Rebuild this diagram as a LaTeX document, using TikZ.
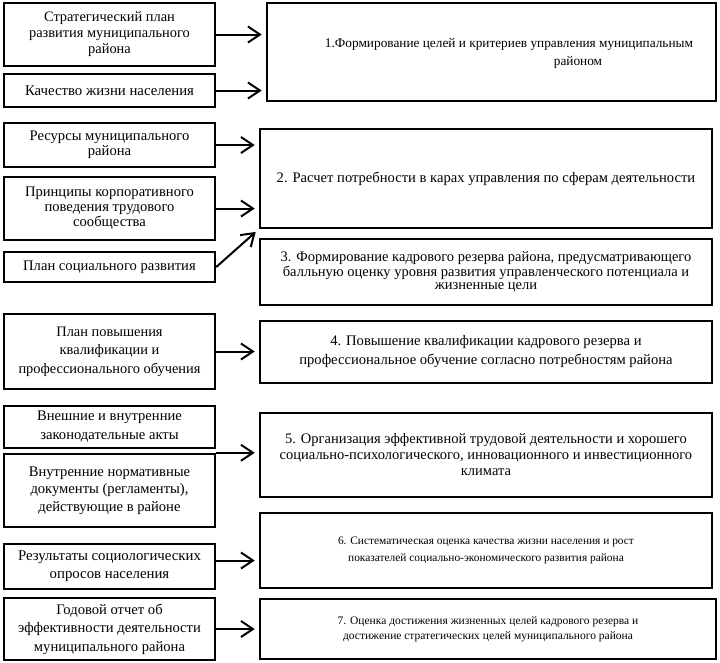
\documentclass[tikz,border=0pt]{standalone}
\usepackage{fontspec}
\setmainfont{Liberation Serif}
\usetikzlibrary{arrows.meta}
\begin{document}
\begin{tikzpicture}[x=1pt,y=-1pt,
 box/.style={draw,line width=2.5pt,align=center,inner sep=1pt},
 lbox/.style={box,minimum width=211pt},
 arr/.style={line width=2pt,-{Straight Barb[length=12pt,width=16pt]},shorten >=4pt}]
\useasboundingbox (0,0) rectangle (720,662);
% left boxes
\node[lbox,minimum height=63pt,font=\fontsize{14.4}{16}\selectfont] (L1) at (109.5,34.5) {Стратегический план\\развития муниципального\\района};
\node[lbox,minimum height=33pt,font=\fontsize{14.8}{16}\selectfont] (L2) at (109.5,90.5) {Качество жизни населения};
\node[lbox,minimum height=44pt,font=\fontsize{14.6}{15}\selectfont] (L3) at (109.5,145) {Ресурсы муниципального\\района};
\node[lbox,minimum height=63pt,font=\fontsize{14.6}{15}\selectfont] (L4) at (109.5,208.5) {Принципы корпоративного\\поведения трудового\\сообщества};
\node[lbox,minimum height=30pt,font=\fontsize{14.6}{15}\selectfont] (L5) at (109.5,267) {План социального развития};
\node[lbox,minimum height=75pt,font=\fontsize{14.4}{18.5}\selectfont] (L6) at (109.5,351.5) {План повышения\\квалификации и\\профессионального обучения};
\node[lbox,minimum height=42pt,font=\fontsize{14.6}{19}\selectfont] (L7) at (109.5,427) {Внешние и внутренние\\законодательные акты};
\node[lbox,minimum height=73pt,font=\fontsize{14.6}{17.5}\selectfont] (L8) at (109.5,490.5) {Внутренние нормативные\\документы (регламенты),\\действующие в районе};
\node[lbox,minimum height=45pt,font=\fontsize{14.8}{18}\selectfont] (L9) at (109.5,566.5) {Результаты социологических\\опросов населения};
\node[lbox,minimum height=62pt,font=\fontsize{14.6}{18.5}\selectfont] (L10) at (109.5,629) {Годовой отчет об\\эффективности деятельности\\муниципального района};
% right boxes
\node[box,minimum width=449pt,minimum height=98pt] (R1) at (491.5,52) {};
\node[font=\fontsize{13.3}{16}\selectfont,inner sep=0pt] (R1a) at (509,44) {1.Формирование целей и критериев управления муниципальным};
\node[font=\fontsize{13.3}{16}\selectfont,inner sep=0pt] (R1b) at (578,62) {районом};
\node[box,minimum width=452pt,minimum height=99pt,font=\fontsize{14.6}{16}\selectfont] (R2) at (486,178.5) {2. Расчет потребности в карах управления по сферам деятельности};
\node[box,minimum width=452pt,minimum height=66pt,font=\fontsize{14.5}{13}\selectfont] (R3) at (486,272) {3. Формирование кадрового резерва района, предусматривающего\\балльную оценку уровня развития управленческого потенциала и\\жизненные цели};
\node[box,minimum width=452pt,minimum height=62pt,font=\fontsize{14.6}{19}\selectfont] (R4) at (486,352) {4. Повышение квалификации кадрового резерва и\\профессиональное обучение согласно потребностям района};
\node[box,minimum width=452pt,minimum height=84pt,font=\fontsize{14.5}{16}\selectfont] (R5) at (486,455) {5. Организация эффективной трудовой деятельности и хорошего\\социально-психологического, инновационного и инвестиционного\\климата};
\node[box,minimum width=452pt,minimum height=75pt,font=\fontsize{11.4}{17}\selectfont] (R6) at (486,550.5) {6. Систематическая оценка качества жизни населения и рост\\показателей социально-экономического развития района};
\node[box,minimum width=456pt,minimum height=60pt,font=\fontsize{11.5}{15}\selectfont] (R7) at (488,629) {7. Оценка достижения жизненных целей кадрового резерва и\\достижение стратегических целей муниципального района};
% arrows
\draw[arr] (L1.east) -- (L1.east -| R1.west);
\draw[arr] (L2.east) -- (L2.east -| R1.west);
\draw[arr] (L3.east) -- (L3.east -| R2.west);
\draw[arr] (L4.east) -- (L4.east -| R2.west);
\draw[arr] (L5.east) -- (R2.south west);
\draw[arr] (L6.east) -- (L6.east -| R4.west);
\draw[arr] (L8.north east) -- (L8.north east -| R5.west);
\draw[arr] ([yshift=6pt]L9.east) -- ([yshift=6pt]L9.east -| R6.west);
\draw[arr] (L10.east) -- (L10.east -| R7.west);
\end{tikzpicture}
\end{document}
